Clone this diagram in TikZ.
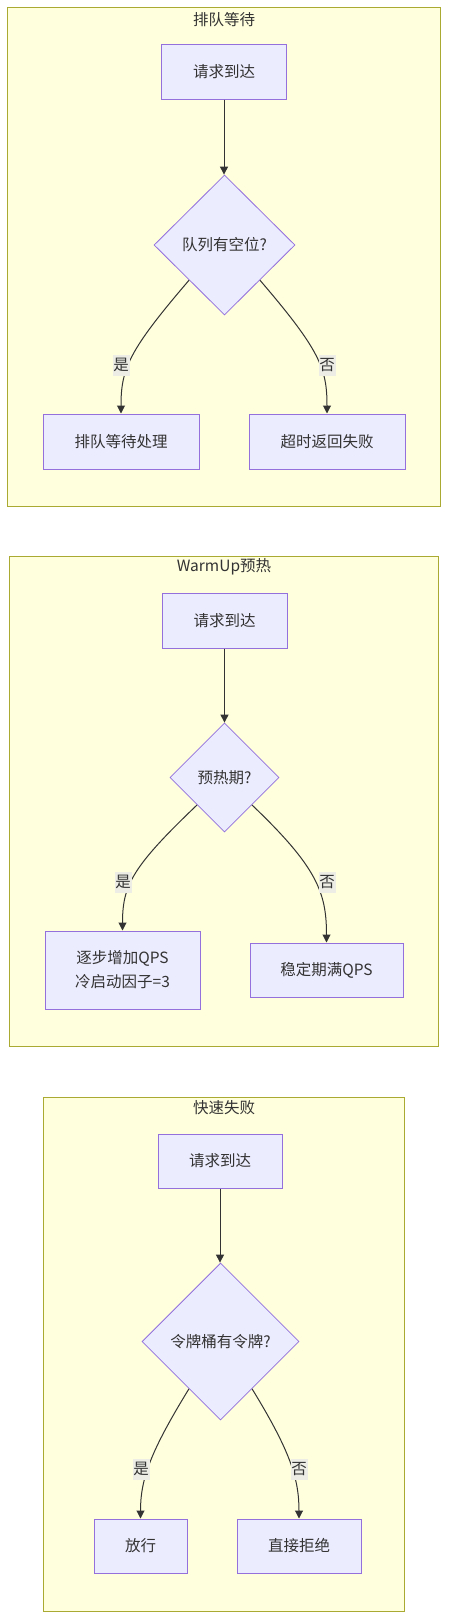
\documentclass[tikz,border=0pt]{standalone}
\usepackage{fontspec}
\setmainfont{Noto Sans CJK SC}
\usetikzlibrary{shapes.geometric, arrows.meta, calc}
\definecolor{clfill}{HTML}{FFFFDE}
\definecolor{clborder}{HTML}{AAAA33}
\definecolor{ndfill}{HTML}{ECECFF}
\definecolor{ndborder}{HTML}{9370DB}
\definecolor{txt}{HTML}{333333}
\definecolor{lblfill}{HTML}{EDEDE6}
\begin{document}
\begin{tikzpicture}[x=1pt,y=-1pt,
  every node/.style={font=\fontsize{15.5}{24}\selectfont, text=txt},
  cluster/.style={draw=clborder, fill=clfill, line width=1pt, rectangle, inner sep=0pt},
  proc/.style={draw=ndborder, fill=ndfill, line width=1pt, rectangle, inner sep=0pt, align=center},
  decision/.style={draw=ndborder, fill=ndfill, line width=0.8pt, diamond, inner sep=0pt},
  flow/.style={draw=txt, line width=1pt, -{Triangle[length=8pt,width=8pt]}},
  lbl/.style={fill=lblfill, inner sep=0pt, minimum height=21pt, minimum width=17pt},
  ctitle/.style={inner sep=0pt}]

\useasboundingbox (0,0) rectangle (448,1619);
\fill[white] (0,0) rectangle (448,1619);

% clusters
\node[cluster, minimum width=432.5pt, minimum height=498.7pt] (c1) at (223.75,257.35) {};
\node[cluster, minimum width=429.4pt, minimum height=490.7pt] (c2) at (224,801.35) {};
\node[cluster, minimum width=361pt, minimum height=514pt] (c3) at (223.5,1354) {};
\node[ctitle] (t1) at (224,19.5) {排队等待};
\node[ctitle] (t2) at (224,567) {WarmUp预热};
\node[ctitle] (t3) at (224,1108) {快速失败};

% cluster 1
\node[proc, minimum width=125pt, minimum height=54pt] (a1) at (224,72) {请求到达};
\node[decision, minimum width=141pt, minimum height=140pt] (d1) at (224.5,245) {队列有空位?};
\node[proc, minimum width=156pt, minimum height=55pt] (y1) at (121,441.5) {排队等待处理};
\node[proc, minimum width=156pt, minimum height=55pt] (n1) at (327,441.5) {超时返回失败};
\draw[flow] (a1.south) -- (a1.south |- d1.north);
\draw[flow] (d1.south west) .. controls +(-60,70) and +(0,-45) .. (y1.north);
\draw[flow] (d1.south east) .. controls +(60,70) and +(0,-45) .. (n1.north);
\node[lbl] (l1y) at (121,365) {是};
\node[lbl] (l1n) at (327,365) {否};

% cluster 2
\node[proc, minimum width=125pt, minimum height=55pt] (a2) at (224.5,620.5) {请求到达};
\node[decision, minimum width=109pt, minimum height=109pt] (d2) at (224.5,777.5) {预热期?};
\node[proc, minimum width=155pt, minimum height=78pt] (y2) at (122.5,970) {逐步增加QPS\\冷启动因子=3};
\node[proc, minimum width=153pt, minimum height=54pt] (n2) at (326.5,970) {稳定期满QPS};
\draw[flow] (a2.south) -- (a2.south |- d2.north);
\draw[flow] (d2.south west) .. controls +(-65,62) and +(0,-45) .. (y2.north);
\draw[flow] (d2.south east) .. controls +(65,62) and +(0,-50) .. (n2.north);
\node[lbl] (l2y) at (123,882) {是};
\node[lbl] (l2n) at (327,882) {否};

% cluster 3
\node[proc, minimum width=124pt, minimum height=54pt] (a3) at (220,1161) {请求到达};
\node[decision, minimum width=157pt, minimum height=157pt] (d3) at (220.5,1341.5) {令牌桶有令牌?};
\node[proc, minimum width=93pt, minimum height=54pt] (y3) at (140.5,1546) {放行};
\node[proc, minimum width=124pt, minimum height=54pt] (n3) at (299,1546) {直接拒绝};
\draw[flow] (a3.south) -- (a3.south |- d3.north);
\draw[flow] ($(d3.west)!0.6!(d3.south)$) .. controls +(-38,62) and +(0,-40) .. (y3.north);
\draw[flow] ($(d3.east)!0.6!(d3.south)$) .. controls +(38,62) and +(0,-40) .. (n3.north);
\node[lbl] (l3y) at (141,1469) {是};
\node[lbl] (l3n) at (299,1469) {否};
\end{tikzpicture}
\end{document}
